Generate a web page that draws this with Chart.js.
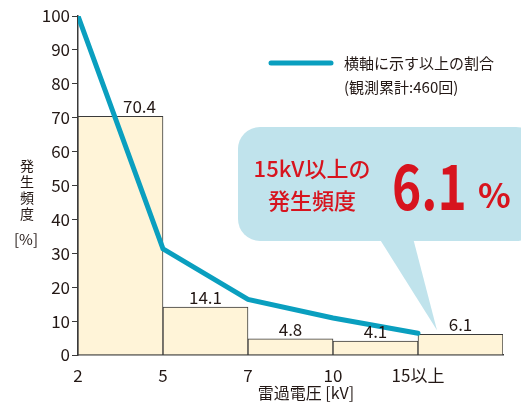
<!DOCTYPE html>
<html>
<head>
<meta charset="utf-8">
<script src="https://cdn.jsdelivr.net/npm/chart.js@4/dist/chart.umd.min.js"></script>
<style>
  html, body { margin: 0; padding: 0; background: #fff; }
  #wrap { width: 521px; height: 406px; position: relative; }
</style>
</head>
<body>
<div id="wrap"><canvas id="surgeChart"></canvas></div>
<script>
// bin edges along the x axis (kV)
const binLabels = ["2", "5", "7", "10", "15以上"];
// occurrence frequency per bin (%)
const freqValues = [70.4, 14.1, 4.8, 4.1, 6.1];
// share of surges at or above each edge (%)
const aboveShare = [100, 31.3, 16.4, 10.9, 6.4];
const yMax = 100;
const yStep = 10;

const FONT = "'Noto Sans CJK JP', 'Noto Sans', sans-serif";
const TEXT = "#231815";
const RED = "#d7141e";

const barPoints = freqValues.map((v, i) => ({ x: i + 0.5, y: v }));
const linePoints = aboveShare.map((v, i) => ({ x: i, y: v }));

const annotations = {
  id: "annotations",
  afterDatasetsDraw(chart) {
    const c = chart.ctx;
    c.save();

    // value labels above bars (first one nudged clear of the line)
    c.fillStyle = TEXT;
    c.font = "17px " + FONT;
    c.textAlign = "center";
    c.textBaseline = "bottom";
    chart.getDatasetMeta(1).data.forEach((bar, i) => {
      const dx = i === 0 ? 19 : 0;
      c.fillText(freqValues[i].toFixed(1), bar.x + dx, bar.y - 1);
    });

    // speech bubble pointing at the 15kV+ bar
    const xs = chart.scales.x, ys = chart.scales.y;
    const tipX = xs.getPixelForValue(4) + 19;
    const tipY = ys.getPixelForValue(aboveShare[4]) - 3;
    c.fillStyle = "#c0e3ec";
    c.beginPath();
    c.roundRect(238, 127, 300, 114, 22);
    c.fill();
    c.beginPath();
    c.moveTo(379, 238);
    c.lineTo(413, 238);
    c.lineTo(tipX, tipY);
    c.closePath();
    c.fill();

    c.fillStyle = RED;
    c.textBaseline = "middle";
    c.font = "500 22px " + FONT;
    c.fillText("15kV以上の", 312, 169);
    c.fillText("発生頻度", 312, 201);

    c.textAlign = "left";
    c.save();
    c.translate(392, 186);
    c.scale(0.8, 1);
    c.font = "bold 62px " + FONT;
    c.fillText("6.1", 0, 0);
    c.restore();
    c.font = "bold 34px " + FONT;
    c.fillText("%", 478, 195);

    // legend
    c.strokeStyle = "#0a9fbf";
    c.lineWidth = 5;
    c.lineCap = "round";
    c.beginPath();
    c.moveTo(271, 63);
    c.lineTo(331, 63);
    c.stroke();
    c.fillStyle = TEXT;
    c.font = "15px " + FONT;
    c.textAlign = "left";
    c.fillText("横軸に示す以上の割合", 344, 63);
    c.fillText("(観測累計:460回)", 344, 87);

    // axis titles
    c.textAlign = "center";
    c.font = "14px " + FONT;
    ["発", "生", "頻", "度"].forEach((ch, i) => c.fillText(ch, 27, 166 + i * 16));
    c.font = "15px " + FONT;
    c.fillText("[%]", 26, 239);
    c.font = "16px " + FONT;
    c.fillText("雷過電圧 [kV]", 306, 393);
    c.restore();
  }
};

new Chart(document.getElementById("surgeChart"), {
  type: "bar",
  data: {
    datasets: [
      {
        type: "line",
        data: linePoints,
        borderColor: "#0a9fbf",
        borderWidth: 5,
        borderCapStyle: "round",
        pointRadius: 0,
        tension: 0,
        order: 0
      },
      {
        type: "bar",
        data: barPoints,
        backgroundColor: "#fff4d8",
        borderColor: "#3a3a3a",
        borderWidth: 1,
        barPercentage: 1,
        categoryPercentage: 1,
        order: 1
      }
    ]
  },
  options: {
    responsive: true,
    maintainAspectRatio: false,
    animation: false,
    events: [],
    layout: { padding: { top: 16, right: 18, left: 0, bottom: 0 } },
    plugins: { legend: { display: false }, tooltip: { enabled: false } },
    scales: {
      x: {
        type: "linear",
        min: 0,
        max: binLabels.length,
        offset: false,
        afterFit: s => { s.height = 51; },
        grid: { display: false },
        border: { display: true, color: "#3a3a3a", width: 1.5 },
        ticks: {
          stepSize: 1,
          color: TEXT,
          font: { size: 17, family: FONT },
          padding: 2,
          maxRotation: 0,
          callback: v => binLabels[v] ?? ""
        }
      },
      y: {
        min: 0,
        max: yMax,
        afterFit: s => { s.width = 78; },
        grid: { drawOnChartArea: false, tickLength: 6, color: "#3a3a3a" },
        border: { display: true, color: "#3a3a3a", width: 1.5 },
        ticks: {
          stepSize: yStep,
          color: TEXT,
          font: { size: 17, family: FONT },
          padding: 2
        }
      }
    }
  },
  plugins: [annotations]
});
</script>
</body>
</html>
